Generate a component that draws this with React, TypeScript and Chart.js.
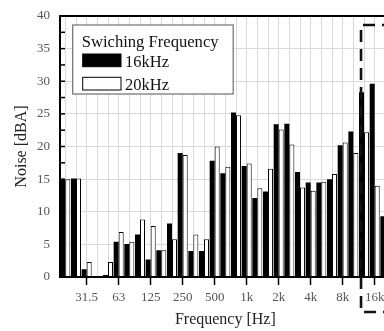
import React, { useEffect, useRef } from 'react';
import { Chart, registerables } from 'chart.js';

Chart.register(...registerables);

const bands = ['20', '25', '31.5', '40', '50', '63', '80', '100', '125', '160', '200', '250', '315', '400', '500', '630', '800', '1k', '1.25k', '1.6k', '2k', '2.5k', '3.15k', '4k', '5k', '6.3k', '8k', '10k', '12.5k', '16k', '20k'];
const shownTicks = ['31.5', '63', '125', '250', '500', '1k', '2k', '4k', '8k', '16k'];
const noise16k = [14.9, 15.1, 1.2, 0, 0.3, 5.4, 5.05, 6.5, 2.7, 4.1, 8.2, 19.0, 4.0, 4.0, 17.8, 15.9, 25.2, 17.0, 12.1, 13.1, 23.4, 23.5, 16.1, 14.5, 14.5, 15.0, 20.2, 22.3, 28.3, 29.6, 9.3];
const noise20k = [15.0, 15.1, 2.3, 0, 2.3, 6.9, 5.4, 8.8, 7.8, 4.1, 5.8, 18.7, 6.5, 5.8, 20.0, 16.9, 24.8, 17.4, 13.6, 16.6, 22.6, 20.3, 13.7, 13.2, 14.6, 15.8, 20.6, 19.0, 22.2, 14.0, 8.0];
const legendTitle = 'Swiching Frequency';
const seriesNames = ['16kHz', '20kHz'];
const yMin = 0;
const yMax = 40;
const yStep = 2.5;
const yLabelStep = 5;

const SERIF = '"Liberation Serif", "DejaVu Serif", serif';

const decorPlugin = {
  id: 'decor',
  afterDatasetsDraw(chart: any) {
    const { ctx, chartArea, scales } = chart;
    const { left, top, right, bottom } = chartArea;
    ctx.save();

    // inside tick marks on y axis
    ctx.strokeStyle = '#000';
    ctx.lineWidth = 1.5;
    for (let v = yMin; v <= yMax + 1e-6; v += yStep) {
      const y = scales.y.getPixelForValue(v);
      ctx.beginPath();
      ctx.moveTo(left, y);
      ctx.lineTo(left + 5, y);
      ctx.stroke();
    }

    // frame
    ctx.lineWidth = 2;
    ctx.strokeStyle = '#000';
    ctx.strokeRect(left, top, right - left, bottom - top);

    // legend box
    const lx = left + 12.7;
    const ly = top + 9;
    const lw = 160.5;
    const lh = 69;
    ctx.fillStyle = '#fff';
    ctx.fillRect(lx, ly, lw, lh);
    ctx.strokeStyle = '#6f6f6f';
    ctx.lineWidth = 1.2;
    ctx.strokeRect(lx, ly, lw, lh);

    ctx.fillStyle = '#111';
    ctx.textBaseline = 'alphabetic';
    ctx.textAlign = 'left';
    ctx.font = `16.6px ${SERIF}`;
    ctx.fillText(legendTitle, left + 21.7, top + 30.5);

    const colors = ['#000', '#fff'];
    const rowY = [top + 38, top + 61.3];
    ctx.font = `16.5px ${SERIF}`;
    seriesNames.forEach((name, i) => {
      ctx.fillStyle = colors[i];
      ctx.fillRect(left + 22.7, rowY[i], 38.3, 12.7);
      ctx.strokeStyle = '#000';
      ctx.lineWidth = 1;
      ctx.strokeRect(left + 22.7, rowY[i], 38.3, 12.7);
      ctx.fillStyle = '#111';
      ctx.fillText(name, left + 65, rowY[i] + 12.5);
    });

    // dashed highlight box
    const dx = scales.x.getPixelForValue(28) - 3;
    const dTop = top + 9;
    const dBottom = bottom + 35;
    ctx.setLineDash([12, 7]);
    ctx.lineWidth = 2.6;
    ctx.strokeStyle = '#111';
    ctx.beginPath();
    ctx.moveTo(chart.width + 5, dTop);
    ctx.lineTo(dx, dTop);
    ctx.lineTo(dx, dBottom);
    ctx.lineTo(chart.width + 5, dBottom);
    ctx.stroke();
    ctx.restore();
  },
};

export default function App() {
  const canvasRef = useRef<HTMLCanvasElement | null>(null);

  useEffect(() => {
    document.documentElement.style.overflow = 'hidden';
    document.body.style.margin = '0';
    document.body.style.overflow = 'hidden';
    const canvas = canvasRef.current;
    if (!canvas) return;
    const chart = new Chart(canvas, {
      type: 'bar',
      data: {
        labels: bands,
        datasets: [
          {
            label: seriesNames[0],
            data: noise16k,
            backgroundColor: '#000',
            borderColor: '#000',
            borderWidth: 0,
            barPercentage: 1,
            categoryPercentage: 0.94,
          },
          {
            label: seriesNames[1],
            data: noise20k,
            backgroundColor: '#fff',
            borderColor: '#000',
            borderWidth: 1,
            barPercentage: 1,
            categoryPercentage: 0.94,
          },
        ],
      },
      options: {
        responsive: false,
        animation: false,
        devicePixelRatio: 1,
        layout: { padding: { top: 8, right: 17.3, left: 0, bottom: 0 } },
        plugins: {
          legend: { display: false },
          tooltip: { enabled: false },
        },
        scales: {
          x: {
            offset: true,
            border: { display: false },
            grid: {
              offset: false,
              color: '#d9d9d9',
              lineWidth: 1,
              drawTicks: true,
              tickLength: 8,
              tickWidth: 1.5,
              tickColor: (c: any) => (shownTicks.includes(bands[c.index]) ? '#000' : 'rgba(0,0,0,0)'),
            },
            ticks: {
              autoSkip: false,
              maxRotation: 0,
              minRotation: 0,
              padding: 5,
              color: '#555',
              font: { family: SERIF, size: 13 },
              callback: (_v: any, i: number) => (shownTicks.includes(bands[i]) ? bands[i] : ''),
            },
            title: {
              display: true,
              text: 'Frequency [Hz]',
              color: '#222',
              font: { family: SERIF, size: 16 },
              padding: { top: 2, bottom: 2 },
            },
            afterFit: (s: any) => {
              s.height = 54;
            },
          },
          y: {
            min: yMin,
            max: yMax,
            border: { display: false },
            grid: {
              color: '#d9d9d9',
              lineWidth: 1,
              drawTicks: true,
              tickLength: 10,
              tickColor: 'rgba(0,0,0,0)',
            },
            ticks: {
              stepSize: yStep,
              padding: 0,
              color: '#555',
              font: { family: SERIF, size: 13 },
              callback: (v: any) => (Number(v) % yLabelStep === 0 ? String(v) : ''),
            },
            title: {
              display: true,
              text: 'Noise [dBA]',
              color: '#222',
              font: { family: SERIF, size: 16 },
              padding: { top: 4, bottom: 4 },
            },
            afterFit: (s: any) => {
              s.width = 52;
            },
          },
        },
      },
      plugins: [decorPlugin],
    });
    return () => chart.destroy();
  }, []);

  return (
    <div style={{ width: 376, height: 323, overflow: 'hidden', marginLeft: 8, paddingTop: 8 }}>
      <canvas ref={canvasRef} width={400} height={323} style={{ display: 'block', width: 400, height: 323 }} />
    </div>
  );
}
